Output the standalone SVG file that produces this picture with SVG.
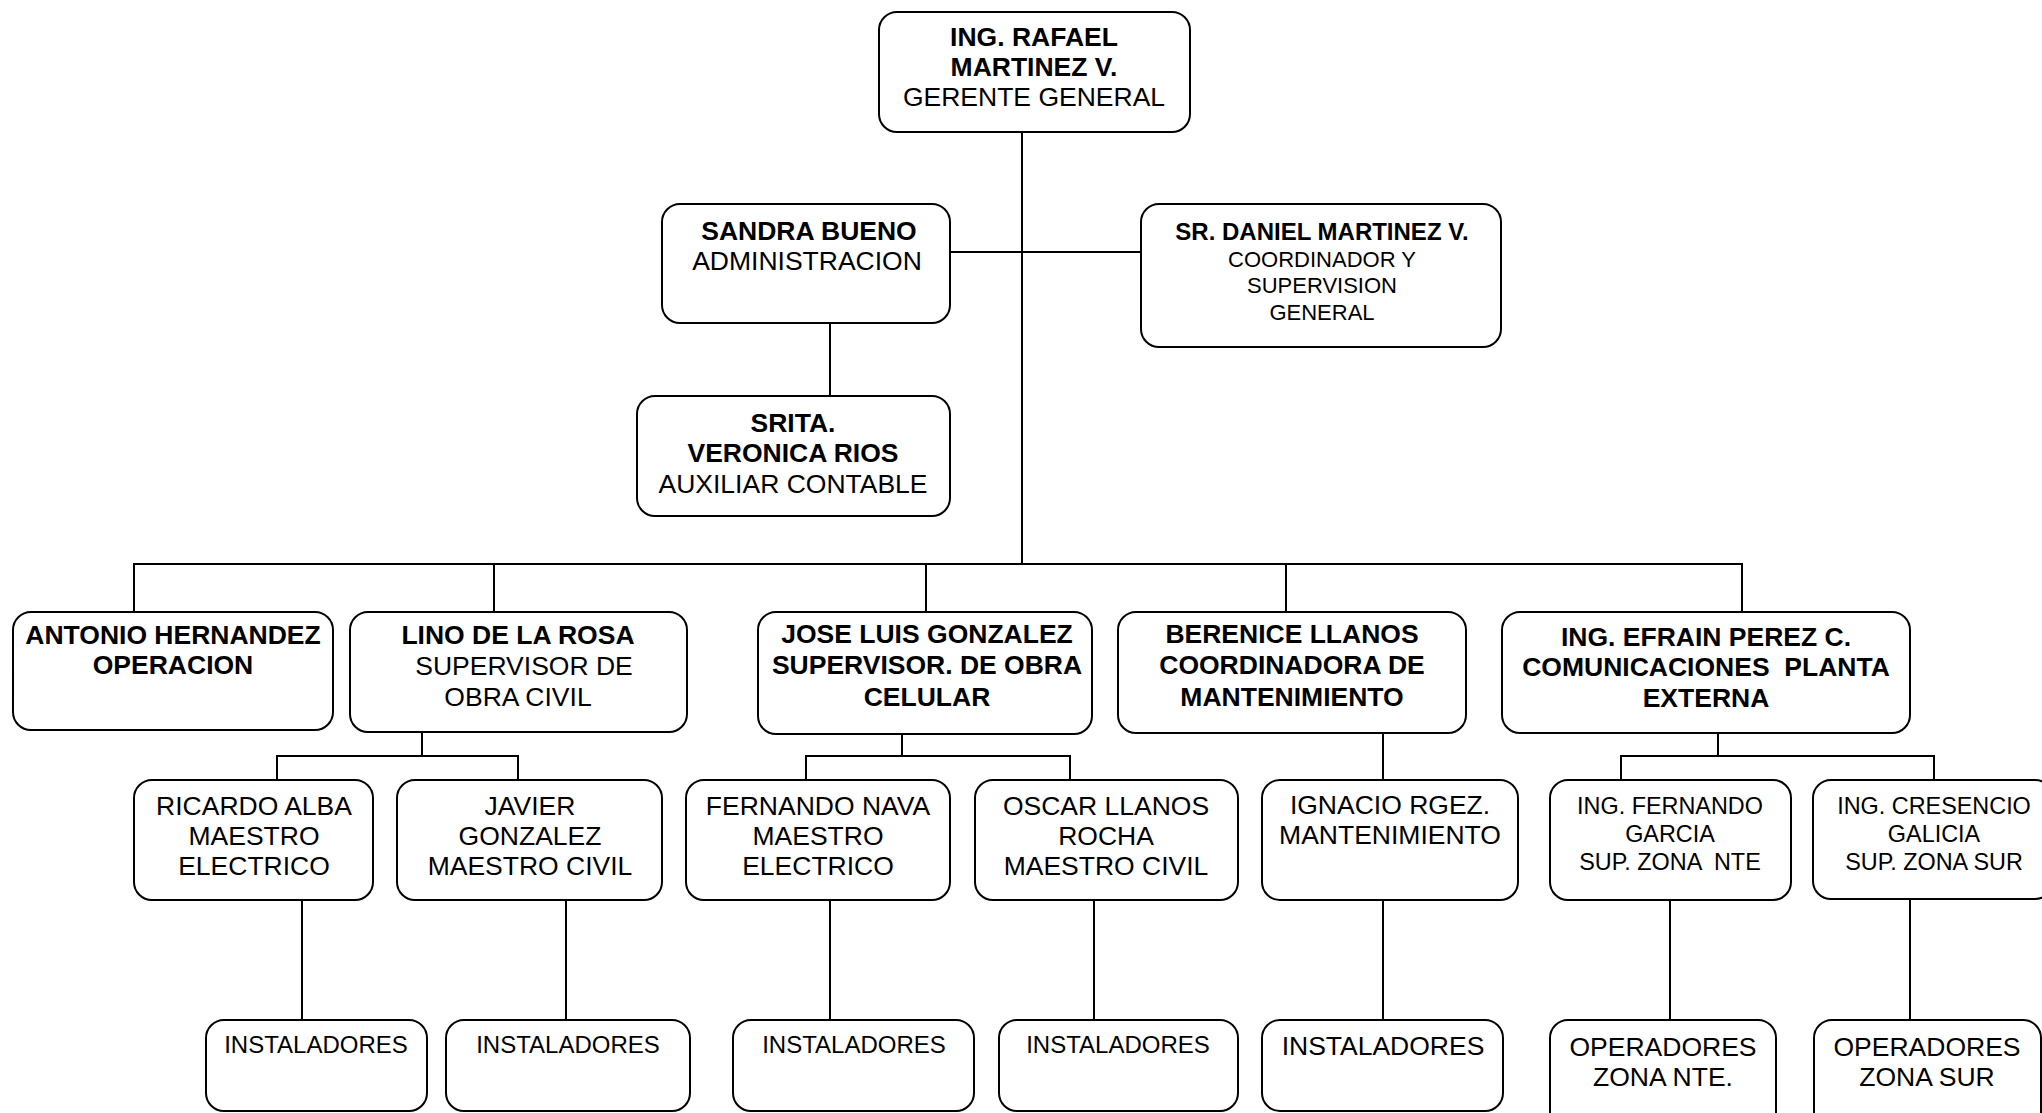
<svg xmlns="http://www.w3.org/2000/svg" width="2042" height="1113" viewBox="0 0 2042 1113">
  <style>
    .box { fill: #ffffff; stroke: #000000; stroke-width: 2; }
    .ln { fill: none; stroke: #000000; stroke-width: 2; }
    text { font-family: "Liberation Sans", Arial, sans-serif; fill: #000000; text-anchor: middle; white-space: pre; }
    .f26 { font-size: 26.5px; }
    .f24 { font-size: 24px; }
    .f23 { font-size: 23.4px; }
    .f22 { font-size: 22px; }
    .b { font-weight: bold; }
  </style>
  <rect width="2042" height="1113" fill="#ffffff"/>

  <!-- connectors -->
  <g id="connectors">
    <path class="ln" d="M1022 132 V564"/>
    <path class="ln" d="M950 252 H1141"/>
    <path class="ln" d="M830 323 V396"/>
    <path class="ln" d="M134 612 V564 H1742 V612"/>
    <path class="ln" d="M494 564 V612 M926 564 V612 M1286 564 V612"/>
    <path class="ln" d="M422 732 V756 M277 780 V756 H518 V780"/>
    <path class="ln" d="M902 734 V756 M806 780 V756 H1070 V780"/>
    <path class="ln" d="M1383 733 V780"/>
    <path class="ln" d="M1718 733 V756 M1621 780 V756 H1934 V780"/>
    <path class="ln" d="M302 900 V1020 M566 900 V1020 M830 900 V1020 M1094 900 V1020 M1383 900 V1020 M1670 900 V1020 M1910 899 V1020"/>
  </g>

  <!-- level 0 -->
  <g id="gerente">
    <rect class="box" x="879" y="12" width="311" height="120" rx="18"/>
    <text class="f26 b" x="1034" y="46">ING. RAFAEL</text>
    <text class="f26 b" x="1034" y="76">MARTINEZ V.</text>
    <text class="f26" x="1034" y="106">GERENTE GENERAL</text>
  </g>

  <!-- staff -->
  <g id="sandra">
    <rect class="box" x="662" y="204" width="288" height="119" rx="18"/>
    <text class="f26 b" x="809" y="240">SANDRA BUENO</text>
    <text class="f26" x="807" y="270">ADMINISTRACION</text>
  </g>
  <g id="daniel">
    <rect class="box" x="1141" y="204" width="360" height="143" rx="18"/>
    <text class="f24 b" x="1322" y="240">SR. DANIEL MARTINEZ V.</text>
    <text class="f22" x="1322" y="267">COORDINADOR Y</text>
    <text class="f22" x="1322" y="293">SUPERVISION</text>
    <text class="f22" x="1322" y="320">GENERAL</text>
  </g>
  <g id="veronica">
    <rect class="box" x="637" y="396" width="313" height="120" rx="18"/>
    <text class="f26 b" x="793" y="432">SRITA.</text>
    <text class="f26 b" x="793" y="462">VERONICA RIOS</text>
    <text class="f26" x="793" y="493">AUXILIAR CONTABLE</text>
  </g>

  <!-- level 1 -->
  <g id="antonio">
    <rect class="box" x="13" y="612" width="320" height="118" rx="18"/>
    <text class="f26 b" x="173" y="644">ANTONIO HERNANDEZ</text>
    <text class="f26 b" x="173" y="674">OPERACION</text>
  </g>
  <g id="lino">
    <rect class="box" x="350" y="612" width="337" height="120" rx="18"/>
    <text class="f26 b" x="518" y="644">LINO DE LA ROSA</text>
    <text class="f26" x="524" y="675">SUPERVISOR DE</text>
    <text class="f26" x="518" y="706">OBRA CIVIL</text>
  </g>
  <g id="jose">
    <rect class="box" x="758" y="612" width="334" height="122" rx="18"/>
    <text class="f26 b" x="927" y="643">JOSE LUIS GONZALEZ</text>
    <text class="f26 b" x="927" y="674">SUPERVISOR. DE OBRA</text>
    <text class="f26 b" x="927" y="706">CELULAR</text>
  </g>
  <g id="berenice">
    <rect class="box" x="1118" y="612" width="348" height="121" rx="18"/>
    <text class="f26 b" x="1292" y="643">BERENICE LLANOS</text>
    <text class="f26 b" x="1292" y="674">COORDINADORA DE</text>
    <text class="f26 b" x="1292" y="706">MANTENIMIENTO</text>
  </g>
  <g id="efrain">
    <rect class="box" x="1502" y="612" width="408" height="121" rx="18"/>
    <text class="f26 b" x="1706" y="646">ING. EFRAIN PEREZ C.</text>
    <text class="f26 b" x="1706" y="676">COMUNICACIONES  PLANTA</text>
    <text class="f26 b" x="1706" y="707">EXTERNA</text>
  </g>

  <!-- level 2 -->
  <g id="ricardo">
    <rect class="box" x="134" y="780" width="239" height="120" rx="18"/>
    <text class="f26" x="254" y="815">RICARDO ALBA</text>
    <text class="f26" x="254" y="845">MAESTRO</text>
    <text class="f26" x="254" y="875">ELECTRICO</text>
  </g>
  <g id="javier">
    <rect class="box" x="397" y="780" width="265" height="120" rx="18"/>
    <text class="f26" x="530" y="815">JAVIER</text>
    <text class="f26" x="530" y="845">GONZALEZ</text>
    <text class="f26" x="530" y="875">MAESTRO CIVIL</text>
  </g>
  <g id="fernando-nava">
    <rect class="box" x="686" y="780" width="264" height="120" rx="18"/>
    <text class="f26" x="818" y="815">FERNANDO NAVA</text>
    <text class="f26" x="818" y="845">MAESTRO</text>
    <text class="f26" x="818" y="875">ELECTRICO</text>
  </g>
  <g id="oscar">
    <rect class="box" x="975" y="780" width="263" height="120" rx="18"/>
    <text class="f26" x="1106" y="815">OSCAR LLANOS</text>
    <text class="f26" x="1106" y="845">ROCHA</text>
    <text class="f26" x="1106" y="875">MAESTRO CIVIL</text>
  </g>
  <g id="ignacio">
    <rect class="box" x="1262" y="780" width="256" height="120" rx="18"/>
    <text class="f26" x="1390" y="814">IGNACIO RGEZ.</text>
    <text class="f26" x="1390" y="844">MANTENIMIENTO</text>
  </g>
  <g id="fernando-garcia">
    <rect class="box" x="1550" y="780" width="241" height="120" rx="18"/>
    <text class="f23" x="1670" y="814">ING. FERNANDO</text>
    <text class="f23" x="1670" y="842">GARCIA</text>
    <text class="f23" x="1670" y="870">SUP. ZONA  NTE</text>
  </g>
  <g id="cresencio">
    <rect class="box" x="1813" y="780" width="240" height="119" rx="18"/>
    <text class="f23" x="1934" y="814">ING. CRESENCIO</text>
    <text class="f23" x="1934" y="842">GALICIA</text>
    <text class="f23" x="1934" y="870">SUP. ZONA SUR</text>
  </g>

  <!-- level 3 -->
  <g id="instaladores-1">
    <rect class="box" x="206" y="1020" width="221" height="91" rx="18"/>
    <text class="f24" x="316" y="1053">INSTALADORES</text>
  </g>
  <g id="instaladores-2">
    <rect class="box" x="446" y="1020" width="244" height="91" rx="18"/>
    <text class="f24" x="568" y="1053">INSTALADORES</text>
  </g>
  <g id="instaladores-3">
    <rect class="box" x="733" y="1020" width="241" height="91" rx="18"/>
    <text class="f24" x="854" y="1053">INSTALADORES</text>
  </g>
  <g id="instaladores-4">
    <rect class="box" x="999" y="1020" width="239" height="91" rx="18"/>
    <text class="f24" x="1118" y="1053">INSTALADORES</text>
  </g>
  <g id="instaladores-5">
    <rect class="box" x="1262" y="1020" width="241" height="91" rx="18"/>
    <text class="f26" x="1383" y="1055">INSTALADORES</text>
  </g>
  <g id="operadores-nte">
    <rect class="box" x="1550" y="1020" width="226" height="110" rx="18"/>
    <text class="f26" x="1663" y="1056">OPERADORES</text>
    <text class="f26" x="1663" y="1086">ZONA NTE.</text>
  </g>
  <g id="operadores-sur">
    <rect class="box" x="1814" y="1020" width="227" height="110" rx="18"/>
    <text class="f26" x="1927" y="1056">OPERADORES</text>
    <text class="f26" x="1927" y="1086">ZONA SUR</text>
  </g>
</svg>
